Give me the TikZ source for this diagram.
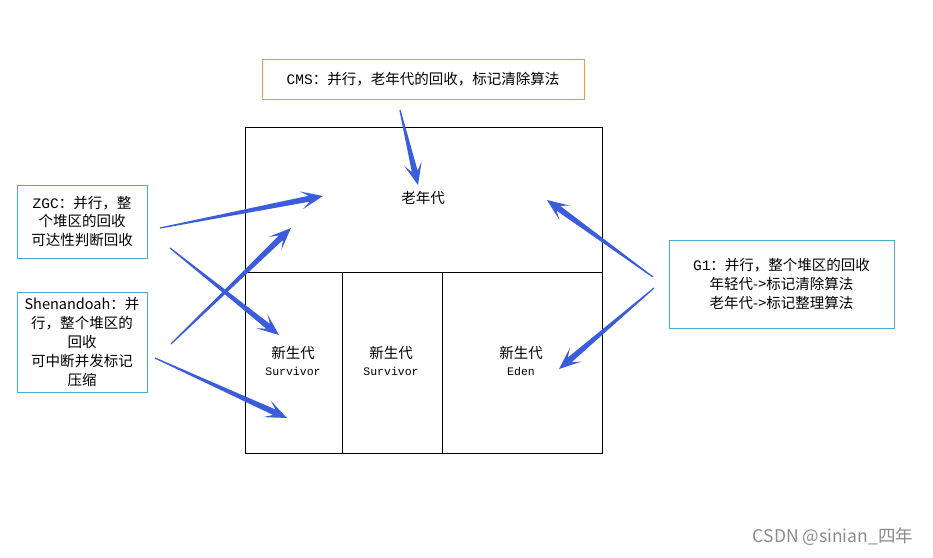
\documentclass[tikz,border=0pt]{standalone}
\usepackage{fontspec}
\newfontfamily\cjk{Noto Sans CJK SC}
\newfontfamily\latinmono{Liberation Mono}
\usetikzlibrary{calc}
\definecolor{gcBlue}{HTML}{3C5DDB}
\definecolor{gcTeal}{HTML}{4BACC6}
\definecolor{gcOrange}{HTML}{F79646}
\definecolor{gcGray}{HTML}{8C8C8C}

\newcommand\gcarrow[2]{%
  \coordinate (nk) at ($(#2)!14pt!(#1)$);
  \coordinate (bb) at ($(#2)!22pt!(#1)$);
  \fill[gcBlue] ($(#1)!0.6pt!90:(#2)$) -- ($(nk)!3pt!-90:(#1)$) -- ($(bb)!9pt!-90:(#1)$)
    -- (#2) -- ($(bb)!9pt!90:(#1)$) -- ($(nk)!3pt!90:(#1)$) -- ($(#1)!0.6pt!-90:(#2)$) -- cycle;}

\begin{document}
\begin{tikzpicture}[x=1pt, y=-1pt,
  gcbox/.style={draw=gcTeal, line width=1pt, inner sep=0pt, align=center, font=\cjk\fontsize{14.5}{18.8}\selectfont},
  areatext/.style={align=center, font=\cjk\fontsize{14.5}{18}\selectfont},
  subname/.style={font=\latinmono\fontsize{11.5}{14}\selectfont}]
  \useasboundingbox[fill=white] (0,0) rectangle (933,557);

  \draw[line width=1pt] (245,127) rectangle (602,453);
  \draw[line width=1pt] (245,272) -- (602,272);
  \draw[line width=1pt] (342,272) -- (342,453);
  \draw[line width=1pt] (442,272) -- (442,453);

  \node[areatext] (old) at (423,198) {老年代};
  \node[areatext] (s1) at (293,353) {新生代};
  \node[subname] (s1-name) at (293,371) {Survivor};
  \node[areatext] (s2) at (391,353) {新生代};
  \node[subname] (s2-name) at (391,371) {Survivor};
  \node[areatext] (eden) at (521,353) {新生代};
  \node[subname] (eden-name) at (521,371) {Eden};

  \node[gcbox, draw=gcOrange, minimum width=322pt, minimum height=40pt] (cms) at (423,79) {{\latinmono CMS}：并行，老年代的回收，标记清除算法};
  \node[gcbox, minimum width=130pt, minimum height=73pt] (zgc) at (82,221.5) {{\latinmono ZGC}：并行，整\\个堆区的回收\\可达性判断回收};
  \node[gcbox, minimum width=130pt, minimum height=100pt] (shen) at (82,342) {Shenandoah：并\\行，整个堆区的\\回收\\可中断并发标记\\压缩};
  \node[gcbox, minimum width=225pt, minimum height=88pt] (g1) at (781.5,284) {{\latinmono G1}：并行，整个堆区的回收\\年轻代->标记清除算法\\老年代->标记整理算法};

  \coordinate (cms-out) at (400,110);
  \coordinate (old-top) at (418,185);
  \coordinate (zgc-out1) at (160,228);
  \coordinate (old-left) at (323,196);
  \coordinate (zgc-out2) at (170,248);
  \coordinate (s1-top) at (279,335);
  \coordinate (shen-out1) at (171,344);
  \coordinate (old-low) at (291,228);
  \coordinate (shen-out2) at (155,358);
  \coordinate (s1-low) at (287,418);
  \coordinate (g1-out1) at (653,277);
  \coordinate (old-right) at (547,200);
  \coordinate (g1-out2) at (654,288);
  \coordinate (eden-in) at (559,369);

  \gcarrow{cms-out}{old-top}
  \gcarrow{zgc-out1}{old-left}
  \gcarrow{zgc-out2}{s1-top}
  \gcarrow{shen-out1}{old-low}
  \gcarrow{shen-out2}{s1-low}
  \gcarrow{g1-out1}{old-right}
  \gcarrow{g1-out2}{eden-in}

  \node[font=\cjk\fontsize{17.5}{20}\selectfont, text=gcGray] (mark) at (833,537) {CSDN @sinian\_四年};
\end{tikzpicture}
\end{document}
